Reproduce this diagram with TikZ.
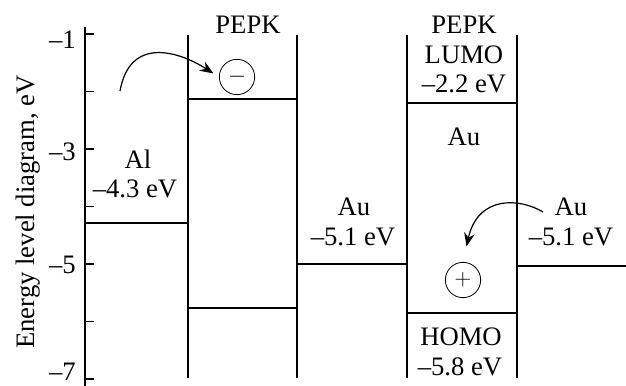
\documentclass[tikz,border=0pt]{standalone}
\usepackage{fontspec}
\setmainfont{Liberation Serif}
\usetikzlibrary{positioning}
\usetikzlibrary{arrows.meta}

\tikzset{
  level/.style={line width=1.3pt},
  wall/.style={line width=1.5pt},
  lbl/.style={font=\fontsize{20}{24}\selectfont, inner sep=0pt, anchor=base},
  charge/.style={circle, draw, line width=0.6pt, minimum size=26.5pt, inner sep=0pt, font=\fontsize{16}{18}\selectfont},
  hop/.style={line width=0.9pt, -{Stealth[length=10pt,width=8pt]}}
}

\begin{document}
\begin{tikzpicture}[x=0.75pt,y=-0.75pt]
        \useasboundingbox (0,0) rectangle (626,386);

        % axis and ticks
        \draw[level] (85,27) -- (85,386);
        \foreach \e in {1,...,7}
            \draw[level] (85,{34+57.5*(\e-1)}) -- ++(9,0);
        \foreach \e/\yy in {1/40,3/152,5/265,7/372}
            \node[lbl, anchor=east] (tick\e) at (76,\yy) {--\e};
        \node[lbl, rotate=90] (ylab) at (35,212) {Energy level diagram, eV};

        % walls of the two layers
        \draw[wall] (188,35) -- (188,378);
        \draw[wall] (297,35) -- (297,378);
        \draw[wall] (407,35) -- (407,378);
        \draw[wall] (517,35) -- (517,378);

        % levels
        \draw[level] (85,223) -- (188,223);
        \draw[level] (188,99) -- (297,99);
        \draw[level] (188,308) -- (297,308);
        \draw[level] (297,264) -- (407,264);
        \draw[level] (407,103) -- (517,103);
        \draw[level] (407,313) -- (517,313);
        \draw[level] (517,266) -- (626,266);

        % labels
        \node[lbl] (pepkA) at (248,33) {PEPK};
        \node[lbl] (pepkB) at (464,33) {PEPK};
        \node[lbl] (lumo) at (464,63) {LUMO};
        \node[lbl] (lumoE) at (464,92) {--2.2 eV};
        \node[lbl] (auIn) at (464,145) {Au};
        \node[lbl] (al) at (138,168) {Al};
        \node[lbl] (alE) at (135,197) {--4.3 eV};
        \node[lbl] (auMid) at (354,215) {Au};
        \node[lbl] (auMidE) at (353,245) {--5.1 eV};
        \node[lbl] (auR) at (571,215) {Au};
        \node[lbl] (auRE) at (571,245) {--5.1 eV};
        \node[lbl] (homo) at (461,345) {HOMO};
        \node[lbl] (homoE) at (460,375) {--5.8 eV};

        % charges and hops
        \node[charge] (minus) at (237,77) {$-$};
        \node[charge] (plus) at (463,280) {$+$};
        \coordinate (hopA) at (120,91);
        \coordinate (hopB) at (543,212);
        \draw[hop, shorten >=5pt] (hopA) .. controls (130,35) and (180,52) .. (minus.west);
        \draw[hop, shorten >=12pt] (hopB) .. controls (520,198) and (478,195) .. (plus.north);
\end{tikzpicture}
\end{document}
